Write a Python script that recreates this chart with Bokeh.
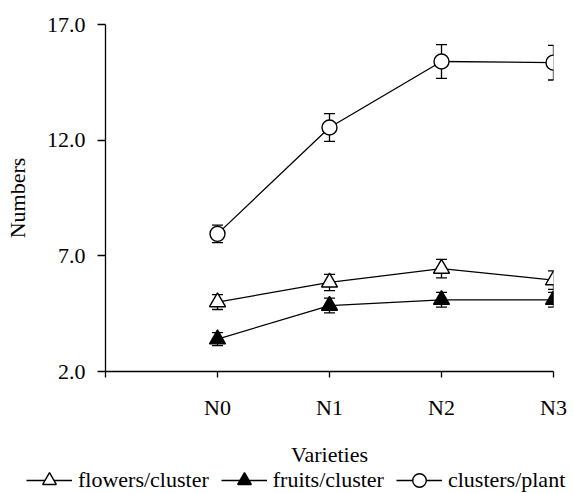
from bokeh.plotting import figure
from bokeh.layouts import column, row
from bokeh.models import (ColumnDataSource, Whisker, TeeHead, FixedTicker, Legend,
                          LegendItem, Range1d)
from bokeh.embed import file_html
from bokeh.resources import INLINE

varieties = ["N0", "N1", "N2", "N3"]
x_pos = [1, 2, 3, 4]
flowers = [5.0, 5.85, 6.45, 5.95]
flowers_err = [0.32, 0.35, 0.4, 0.4]
fruits = [3.4, 4.85, 5.1, 5.1]
fruits_err = [0.28, 0.32, 0.32, 0.32]
clusters = [7.95, 12.55, 15.4, 15.35]
clusters_err = [0.38, 0.6, 0.73, 0.75]
y_ticks = [2, 7, 12, 17]

FONT = "'Liberation Serif', 'Times New Roman', Times, serif"

p = figure(width=573, height=469, output_backend="svg", toolbar_location=None,
           x_range=Range1d(0, 4), y_range=Range1d(2, 17),
           min_border_left=105, min_border_right=20, min_border_top=24,
           min_border_bottom=98)
p.outline_line_color = None
p.grid.visible = False
p.background_fill_color = "white"
p.border_fill_color = "white"

# separate strip for the legend; its ranges keep the series out of view so only
# the legend entries show
lf = figure(width=573, height=24, output_backend="svg", toolbar_location=None,
            x_range=Range1d(0, 1), y_range=Range1d(-2, -1),
            x_axis_location=None, y_axis_location=None,
            min_border=0, min_border_left=0, min_border_right=0,
            min_border_top=0, min_border_bottom=0)
lf.outline_line_color = None
lf.grid.visible = False
lf.background_fill_color = "white"
lf.border_fill_color = "white"

series = [
    ("flowers/cluster", flowers, flowers_err, "triangle", "white"),
    ("fruits/cluster", fruits, fruits_err, "triangle", "black"),
    ("clusters/plant", clusters, clusters_err, "circle", "white"),
]

items = []
for name, vals, errs, marker, fill in series:
    src = ColumnDataSource(dict(
        x=x_pos, y=vals,
        upper=[v + e for v, e in zip(vals, errs)],
        lower=[v - e for v, e in zip(vals, errs)],
    ))
    w = Whisker(source=src, base="x", upper="upper", lower="lower",
                line_color="black", line_width=1.3,
                upper_head=TeeHead(size=11, line_color="black", line_width=1.3),
                lower_head=TeeHead(size=11, line_color="black", line_width=1.3))
    p.add_layout(w)
    p.line("x", "y", source=src, line_color="black", line_width=1.3)
    sz = 16 if marker == "triangle" else 15
    p.scatter("x", "y", source=src, marker=marker, size=sz,
              fill_color=fill, line_color="black", line_width=1.4)
    # legend renderers in the legend strip (data lies outside its ranges)
    lsrc = ColumnDataSource(dict(x=x_pos, y=vals))
    lln = lf.line("x", "y", source=lsrc, line_color="black", line_width=1.3)
    lsc = lf.scatter("x", "y", source=lsrc, marker=marker, size=sz,
                     fill_color=fill, line_color="black", line_width=1.4)
    items.append(LegendItem(label=name, renderers=[lln, lsc]))

# axes
p.yaxis.ticker = FixedTicker(ticks=y_ticks)
p.yaxis.major_label_overrides = {t: f"{t:.1f}" for t in y_ticks}
p.yaxis.minor_tick_line_color = None
p.yaxis.major_tick_in = 0
p.yaxis.major_tick_out = 8
p.yaxis.major_label_standoff = 12
p.yaxis.axis_label = "Numbers"
p.yaxis.axis_label_standoff = 14

p.xaxis.ticker = FixedTicker(ticks=[0] + x_pos)
p.xaxis.major_label_overrides = {0: "", **{x: v for x, v in zip(x_pos, varieties)}}
p.xaxis.minor_tick_line_color = None
p.xaxis.major_tick_in = 0
p.xaxis.major_tick_out = 6
p.xaxis.major_label_standoff = 17
p.xaxis.axis_label = "Varieties"
p.xaxis.axis_label_standoff = 19

for ax in (p.xaxis[0], p.yaxis[0]):
    ax.axis_line_color = "black"
    ax.axis_line_width = 1.3
    ax.major_tick_line_color = "black"
    ax.major_tick_line_width = 1.3
    ax.major_label_text_font = FONT
    ax.major_label_text_font_size = "22px"
    ax.major_label_text_color = "black"
    ax.axis_label_text_font = FONT
    ax.axis_label_text_font_size = "22px"
    ax.axis_label_text_font_style = "normal"
    ax.axis_label_text_color = "black"

legend = Legend(items=items, orientation="horizontal", location=(26, -4),
                glyph_width=46, glyph_height=34, label_height=20,
                label_standoff=6, spacing=12,
                padding=0, margin=0, border_line_color=None,
                background_fill_alpha=0,
                label_text_font=FONT, label_text_font_size="22px",
                label_text_color="black")
lf.add_layout(legend, "center")

layout = column(p, row(lf, spacing=0), spacing=0)
open("out.html", "w").write(file_html(layout, INLINE))
